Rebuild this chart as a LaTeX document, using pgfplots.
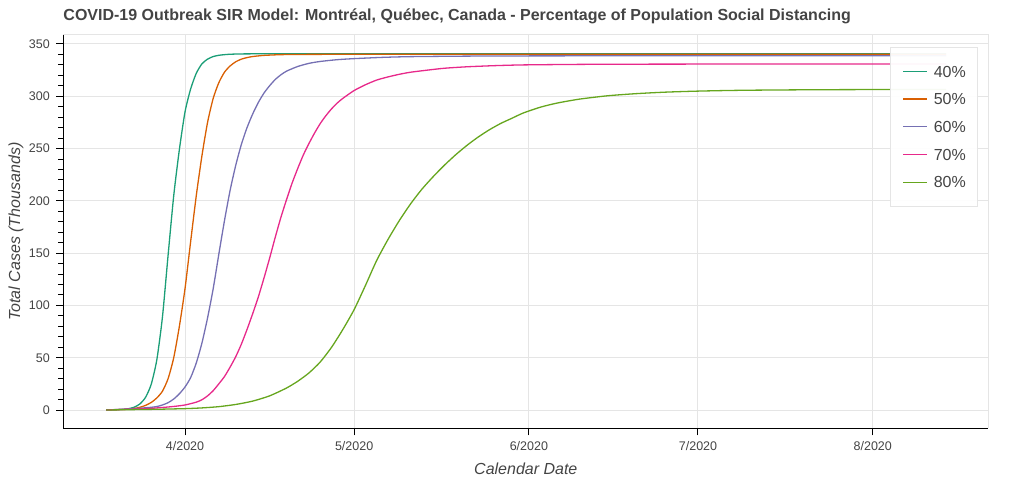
\documentclass[border=0pt]{standalone}
\usepackage{fontspec}
\setmainfont{Liberation Sans}
\usepackage{pgfplots}
\usepackage{pgfplotstable}
\pgfplotsset{compat=1.18}

\definecolor{c40}{HTML}{1B9E77}
\definecolor{c50}{HTML}{D95F02}
\definecolor{c60}{HTML}{7570B3}
\definecolor{c70}{HTML}{E7298A}
\definecolor{c80}{HTML}{66A61E}
\definecolor{gridc}{HTML}{E5E5E5}
\definecolor{txt}{HTML}{444444}

% x = days since 2020-04-01, y = total cases (thousands)
\pgfplotstableread{
day cases
-14 0
-13 0.15
-12 0.3
-11 0.65
-10 1.3
-9 2.7
-8 5.8
-7 12.1
-6 24.5
-5 48
-4 89
-3 148
-2 205
-1 249
0 285
1 307
2 322
3 331
4 335.5
5 338
6 339.2
7 339.8
8 340.2
10 340.5
13 340.6
20 340.6
30 340.6
45 340.6
60 340.6
80 340.6
100 340.6
120 340.6
135 340.6
}\sdforty

\pgfplotstableread{
day cases
-14 0
-13 0.15
-12 0.3
-11 0.5
-10 0.9
-9 1.5
-8 2.6
-7 4.4
-6 7.2
-5 11.5
-4 18
-3 30
-2 50
-1 80
0 116
1 161
2 205
3 243
4 275
5 298
6 313
7 323
8 329
9 333
10 335.5
11 337
12 338
14 339.1
17 339.8
20 340.0
25 340.1
35 340.1
50 340.1
70 340.1
90 340.1
110 340.1
135 340.1
}\sdfifty

\pgfplotstableread{
day cases
-14 0
-12 0.5
-10 1.0
-8 1.7
-6 2.6
-5 3.3
-4 4.8
-3 7
-2 10.5
-1 15.5
0 22
1 31
2 45
3 64
4 88
5 116
6 149
7 181
8 210
9 234
10 254
11 270
12 283
13 294
14 303
15 310
16 316
17 320.5
18 324
20 328.5
22 331.5
24 333.3
27 335
30 336
35 337.2
40 337.9
50 338.4
60 338.6
75 338.7
90 338.7
110 338.7
135 338.7
}\sdsixty

\pgfplotstableread{
day cases
-14 0
-12 0.4
-10 0.7
-8 1.1
-6 1.6
-4 2.4
-2 3.4
0 4.8
2 7.5
3 9.8
4 13.5
5 18.5
6 25
7 32
8 41
9 51
10 63
11 77
12 92
13 108
14 126
15 145
16 165
17 184
18 201
19 217
20 231
21 244
22 255
23 265
24 274
25 281.5
26 288
27 293.5
28 298
30 305.5
32 311
34 315.5
36 318.5
38 321
40 323
43 325
46 326.8
50 328.2
55 329.3
60 330
70 330.5
80 330.7
95 330.8
115 330.8
135 330.8
}\sdseventy

\pgfplotstableread{
day cases
-14 0
-10 0.3
-5 0.7
0 1.3
3 2
6 3.2
9 5.3
12 8.5
15 13.5
18 21
20 27.5
22 35.5
24 46
26 60
28 77
30 96
32 119
34 143
36 163
38 181
40 197
42 211
44 223
46 234
48 244
50 253
52 261
54 268
56 274
58 279
60 284
63 289.5
66 293.5
70 297.3
75 300.5
80 302.5
85 303.9
90 304.8
95 305.4
100 305.8
110 306.2
120 306.4
135 306.5
}\sdeighty

\begin{document}
\begin{tikzpicture}
\useasboundingbox (-63.3bp,-53.7bp) rectangle (960.7bp,428.3bp);
\begin{axis}[
  scale only axis, width=925bp, height=393.3bp,
  xmin=-21.59, xmax=142.5, ymin=-17.5, ymax=358.6,
  xtick={0,30,61,91,122},
  xticklabels={4/2020,5/2020,6/2020,7/2020,8/2020},
  ytick={0,50,...,350}, minor y tick num=4,
  grid=major, major grid style={gridc, line width=1bp},
  axis line style={draw=none},
  tick align=outside, tick pos=left,
  major tick length=7bp, minor tick length=5bp,
  every tick/.style={black, line width=1bp},
  tick label style={font=\fontsize{12.5bp}{12.5bp}\selectfont, text=txt, inner sep=0pt},
  /pgf/number format/assume math mode=true,
  xticklabel style={anchor=base, yshift=-14.7bp},
  yticklabel style={anchor=east, xshift=-6.3bp},
  title={COVID-19 Outbreak SIR Model: Montréal, Québec, Canada - Percentage of Population Social Distancing},
  title style={at={(axis description cs:0,1)}, anchor=base west, yshift=8.3bp,
    font=\bfseries\fontsize{16bp}{16bp}\selectfont, text=txt, inner sep=0pt},
  xlabel={Calendar Date},
  xlabel style={at={(axis description cs:0.5,0)}, anchor=base, yshift=-45.7bp,
    font=\itshape\fontsize{16bp}{16bp}\selectfont, text=txt, inner sep=0pt},
  ylabel={Total Cases (Thousands)},
  ylabel style={at={(axis description cs:-0.0468,0.5)}, anchor=base,
    font=\itshape\fontsize{16bp}{16bp}\selectfont, text=txt, inner sep=0pt},
  clip=false,
  every axis plot/.append style={line width=1.3bp, smooth, tension=0.4},
  legend cell align=left,
  legend image code/.code={\draw[#1, line width=1.3bp, sharp plot] (0bp,0bp) -- (24bp,0bp);},
  legend style={at={(axis description cs:0.8937,0.9695)}, anchor=north west,
    draw=gridc, line width=1bp, fill=white, fill opacity=0.95, draw opacity=1, text opacity=1,
    inner xsep=12bp, inner ysep=18.2bp, row sep=16.2bp, column sep=6bp,
    font=\fontsize{16bp}{16bp}\selectfont, text=txt,
    nodes={inner sep=0pt, text height=11.5bp, text depth=0bp}},
]
\addplot[c40] table[x=day, y=cases] {\sdforty};
\addlegendentry{40\%}
\addplot[c50] table[x=day, y=cases] {\sdfifty};
\addlegendentry{50\%}
\addplot[c60] table[x=day, y=cases] {\sdsixty};
\addlegendentry{60\%}
\addplot[c70] table[x=day, y=cases] {\sdseventy};
\addlegendentry{70\%}
\addplot[c80] table[x=day, y=cases] {\sdeighty};
\addlegendentry{80\%}
\draw[gridc, line width=1bp] (rel axis cs:0,1) -- (rel axis cs:1,1) -- (rel axis cs:1,0);
\draw[black, line width=1bp] (rel axis cs:0,1) -- (rel axis cs:0,0) -- (rel axis cs:1,0);
\end{axis}
\end{tikzpicture}
\end{document}
